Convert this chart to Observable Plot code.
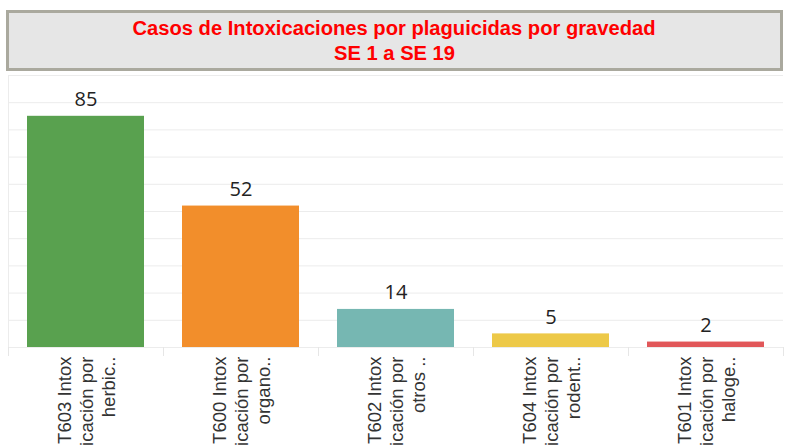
<!DOCTYPE html>
<html>
<head>
<meta charset="utf-8">
<script src="https://cdn.jsdelivr.net/npm/d3@7"></script>
<script src="https://cdn.jsdelivr.net/npm/@observablehq/plot@0.6"></script>
<style>
  html, body { margin: 0; padding: 0; background: #fff; width: 786px; height: 448px; overflow: hidden; }
  #title {
    position: absolute; left: 6px; top: 10px; width: 777px; height: 61px;
    box-sizing: border-box; border: 3px solid #aaa99e; background: #e6e6e6;
  }
  .tl {
    position: absolute; left: 0; width: 100%; text-align: center; white-space: nowrap;
    color: #ff0000; font-family: "Liberation Sans", Arial, sans-serif;
    font-weight: bold; font-size: 19.5px; line-height: 20px;
  }
  .tl span { display: inline-block; transform-origin: center; }
  #chart { position: absolute; left: 0; top: 72px; }
</style>
</head>
<body>
<div id="title">
  <div class="tl" style="top: 5px;"><span id="t1">Casos de Intoxicaciones por plaguicidas por gravedad</span></div>
  <div class="tl" style="top: 30px;"><span id="t2">SE 1 a SE 19</span></div>
</div>
<div id="chart"></div>
<script>
const categories = ["T603 Intox", "T600 Intox", "T602 Intox", "T604 Intox", "T601 Intox"];
const labels = [
  "T603 Intox\nicación por\nherbic..",
  "T600 Intox\nicación por\norgano..",
  "T602 Intox\nicación por\notros ..",
  "T604 Intox\nicación por\nrodent..",
  "T601 Intox\nicación por\nhaloge.."
];
const values = [85, 52, 14, 5, 2];
const colors = ["#59a14f", "#f28e2b", "#76b7b2", "#edc948", "#e15759"];
const yTicks = [0, 10, 20, 30, 40, 50, 60, 70, 80, 90, 100];

// condense title horizontally to the reference width
const t1 = document.getElementById("t1");
const t2 = document.getElementById("t2");
const k = 523 / t1.getBoundingClientRect().width;
t1.style.transform = `scaleX(${k})`;
t2.style.transform = `scaleX(${k})`;

const data = categories.map((c, i) => ({cat: c, label: labels[i], value: values[i], color: colors[i]}));

const plot = Plot.plot({
  width: 786,
  height: 376,
  marginLeft: 8,
  marginRight: 3,
  marginTop: 3,
  marginBottom: 101,
  x: {domain: categories, paddingInner: 0.245, paddingOuter: 0.1225, axis: null},
  y: {domain: [0, 100], axis: null},
  style: {background: "transparent"},
  marks: [
    Plot.ruleY(yTicks, {stroke: "#ececec", strokeWidth: 1}),
    Plot.ruleX([0], {x: () => categories[0], dx: -77.5, y1: 0, y2: 100, stroke: "#ececec"}),
    Plot.ruleX(data, {x: "cat", dx: -77.5, y1: 0, y2: 0, insetBottom: -9, stroke: "#e6e6e6"}),
    Plot.ruleX([0], {x: () => categories[categories.length - 1], dx: 77.5, y1: 0, y2: 0, insetBottom: -9, stroke: "#e6e6e6"}),
    Plot.barY(data, {x: "cat", y: "value", fill: "color"}),
    Plot.text(data, {x: "cat", y: "value", text: d => String(d.value), lineAnchor: "bottom", dy: -10,
      fontSize: 20, fill: "#222", fontFamily: "Open Sans"}),
    Plot.text(data, {x: "cat", y: 0, text: "label", rotate: -90, textAnchor: "end", lineAnchor: "middle",
      dy: 9, lineHeight: 1.2, fontSize: 18.5, fill: "#333", fontFamily: "Liberation Sans"})
  ]
});
document.getElementById("chart").appendChild(plot);
</script>
</body>
</html>
